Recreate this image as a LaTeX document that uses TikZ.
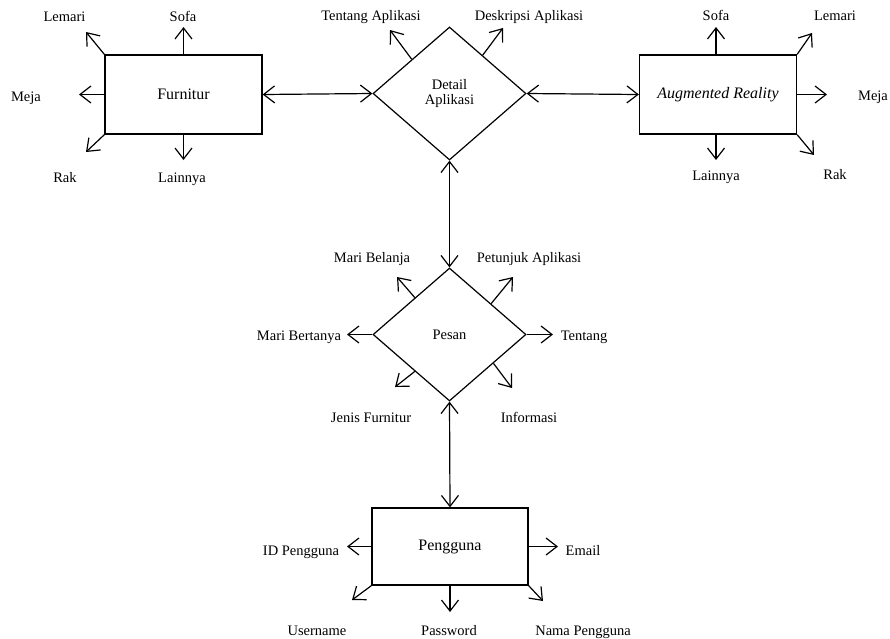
\documentclass[tikz,border=0pt]{standalone}
\usepackage{fontspec}
\setmainfont{Liberation Serif}
\usetikzlibrary{arrows.meta,shapes.geometric,calc}
\begin{document}
\begin{tikzpicture}[x=1pt,y=-1pt,
  box/.style={draw, line width=1.3pt, minimum width=157pt, minimum height=79pt, inner sep=0pt, font=\fontsize{16}{18}\selectfont},
  dia/.style={draw, diamond, line width=1.2pt, minimum width=153pt, minimum height=133pt, inner sep=0pt, align=center, font=\fontsize{14.5}{15}\selectfont},
  lbl/.style={anchor=base, inner sep=0pt, font=\fontsize{14.5}{17}\selectfont},
  arr/.style={-{Straight Barb[length=11pt,width=17pt]}, line width=1.2pt},
  biarr/.style={{Straight Barb[length=11pt,width=17pt]}-{Straight Barb[length=11pt,width=17pt]}, line width=1.2pt}]
\useasboundingbox (0,0) rectangle (890,638);

% main nodes
\node[box] (fur) at (183.5,94.5) {Furnitur};
\node[box] (ar) at (718,94.5) {\itshape Augmented Reality};
\node[box, minimum width=156pt, minimum height=77pt] (pg) at (450,546.5) {Pengguna};
\node[dia] (det) at (449.5,93.5) {Detail\\Aplikasi};
\node[dia] (pes) at (449.5,334.5) {Pesan};

% main connectors
\draw[biarr] (fur.east) -- (det.west);
\draw[biarr] (det.east) -- (ar.west);
\draw[biarr] (det.south) -- (pes.north);
\draw[biarr] (pes.south) -- (pg.north);

% Furnitur
\coordinate (fSofa) at (183.5,27);
\coordinate (fLemari) at (86,32);
\coordinate (fMeja) at (79,94.5);
\coordinate (fRak) at (86,152);
\coordinate (fLain) at (183.5,160);
\draw[arr] (fur.north) -- (fSofa);
\draw[arr] (fur.north west) -- (fLemari);
\draw[arr] (fur.west) -- (fMeja);
\draw[arr] (fur.south west) -- (fRak);
\draw[arr] (fur.south) -- (fLain);
\node[lbl] (lfSofa) at (183,21) {Sofa};
\node[lbl] (lfLemari) at (64.5,21) {Lemari};
\node[lbl] (lfMeja) at (26,101) {Meja};
\node[lbl] (lfRak) at (65,182) {Rak};
\node[lbl] (lfLain) at (182,182) {Lainnya};

% Detail Aplikasi
\coordinate (dTentS) at ($(det.north)!0.49!(det.west)$);
\coordinate (dDeskS) at ($(det.north)!0.43!(det.east)$);
\coordinate (dTentE) at (390,30);
\coordinate (dDeskE) at (503,28);
\draw[arr] (dTentS) -- (dTentE);
\draw[arr] (dDeskS) -- (dDeskE);
\node[lbl] (ldTent) at (371,20) {Tentang Aplikasi};
\node[lbl] (ldDesk) at (529,20) {Deskripsi Aplikasi};

% Augmented Reality
\coordinate (aSofa) at (716,27);
\coordinate (aLemari) at (812,33);
\coordinate (aMeja) at (827,94.5);
\coordinate (aRak) at (814,155);
\coordinate (aLain) at (716,160);
\draw[arr] (ar.north -| aSofa) -- (aSofa);
\draw[arr] (ar.north east) -- (aLemari);
\draw[arr] (ar.east) -- (aMeja);
\draw[arr] (ar.south east) -- (aRak);
\draw[arr] (ar.south -| aLain) -- (aLain);
\node[lbl] (laSofa) at (716,20) {Sofa};
\node[lbl] (laLemari) at (835,20) {Lemari};
\node[lbl] (laMeja) at (873,100) {Meja};
\node[lbl] (laRak) at (835,179) {Rak};
\node[lbl] (laLain) at (716,180) {Lainnya};

% Pesan
\coordinate (pBelS) at ($(pes.north)!0.45!(pes.west)$);
\coordinate (pPetS) at ($(pes.north)!0.54!(pes.east)$);
\coordinate (pJenS) at ($(pes.south)!0.45!(pes.west)$);
\coordinate (pInfS) at ($(pes.south)!0.57!(pes.east)$);
\coordinate (pBelE) at (397,277);
\coordinate (pPetE) at (513,277);
\coordinate (pJenE) at (395,387);
\coordinate (pInfE) at (512,388);
\coordinate (pBerE) at (347,334.5);
\coordinate (pTenE) at (553,334.5);
\draw[arr] (pBelS) -- (pBelE);
\draw[arr] (pPetS) -- (pPetE);
\draw[arr] (pJenS) -- (pJenE);
\draw[arr] (pInfS) -- (pInfE);
\draw[arr] (pes.west) -- (pBerE);
\draw[arr] (pes.east) -- (pTenE);
\node[lbl] (lpBel) at (372,262) {Mari Belanja};
\node[lbl] (lpPet) at (529,262) {Petunjuk Aplikasi};
\node[lbl] (lpBer) at (299,340) {Mari Bertanya};
\node[lbl] (lpTen) at (584,340) {Tentang};
\node[lbl] (lpJen) at (371,422) {Jenis Furnitur};
\node[lbl] (lpInf) at (529,422) {Informasi};

% Pengguna
\coordinate (gID) at (347,546.5);
\coordinate (gEmail) at (558,546.5);
\coordinate (gUser) at (352,600);
\coordinate (gPass) at (450,612);
\coordinate (gNama) at (543,601);
\draw[arr] (pg.west) -- (gID);
\draw[arr] (pg.east) -- (gEmail);
\draw[arr] (pg.south west) -- (gUser);
\draw[arr] (pg.south) -- (gPass);
\draw[arr] (pg.south east) -- (gNama);
\node[lbl] (lgID) at (301,555) {ID Pengguna};
\node[lbl] (lgEmail) at (583,555) {Email};
\node[lbl] (lgUser) at (317,635) {Username};
\node[lbl] (lgPass) at (449,635) {Password};
\node[lbl] (lgNama) at (583,635) {Nama Pengguna};
\end{tikzpicture}
\end{document}
